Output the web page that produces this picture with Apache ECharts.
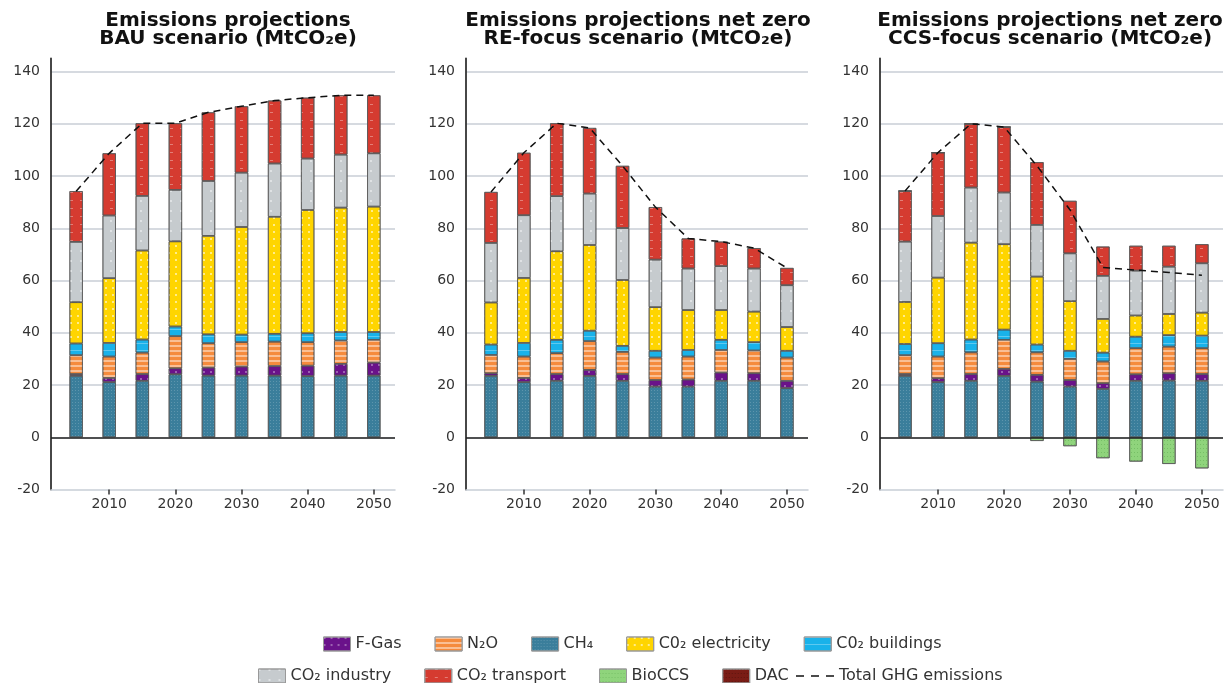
<!DOCTYPE html>
<html><head><meta charset="utf-8">
<script src="https://cdn.jsdelivr.net/npm/echarts@6/dist/echarts.min.js"></script>
<style>html,body{margin:0;padding:0;background:#fff}#c{width:1224px;height:683px}</style>
</head><body><div id="c"></div>
<script>
// ---------- data ----------
const years = [2005, 2010, 2015, 2020, 2025, 2030, 2035, 2040, 2045, 2050];
const xTickYears = [2010, 2020, 2030, 2040, 2050];

const titleBAU = 'Emissions projections\nBAU scenario (MtCO₂e)';
const titleRE = 'Emissions projections net zero\nRE-focus scenario (MtCO₂e)';
const titleCCS = 'Emissions projections net zero\nCCS-focus scenario (MtCO₂e)';

// BAU scenario
const bauCH4   = [23.5, 21.1, 21.6, 24.1, 23.6, 23.6, 23.6, 23.4, 23.6, 23.6];
const bauFGas  = [0.7, 1.6, 2.6, 2.3, 3.1, 3.5, 3.7, 4.0, 4.5, 5.0];
const bauN2O   = [7.2, 8.2, 8.2, 12.3, 9.3, 9.3, 9.3, 9.0, 8.9, 8.7];
const bauBld   = [4.5, 5.2, 5.0, 3.7, 3.4, 2.9, 3.0, 3.4, 3.3, 3.0];
const bauElec  = [15.8, 24.8, 34.1, 32.6, 37.7, 41.2, 44.8, 47.2, 47.6, 48.0];
const bauInd   = [23.1, 24.0, 20.9, 19.7, 21.0, 20.8, 20.4, 19.7, 20.3, 20.4];
const bauTrans = [19.4, 23.8, 27.8, 25.5, 26.3, 25.4, 24.1, 23.3, 22.7, 22.2];
const bauTotal = [94.2, 108.7, 120.2, 120.2, 124.4, 126.7, 128.9, 130.0, 130.9, 130.9];

// RE-focus scenario
const reCH4   = [23.5, 21.1, 21.6, 23.5, 21.6, 19.4, 19.4, 21.6, 21.6, 18.8];
const reFGas  = [1.0, 1.6, 2.6, 2.3, 2.6, 2.5, 2.7, 3.2, 2.9, 2.8];
const reN2O   = [7.0, 8.2, 8.0, 11.0, 8.5, 8.6, 8.8, 8.6, 8.7, 8.9];
const reBld   = [4.0, 5.2, 5.1, 4.0, 2.3, 2.6, 2.5, 3.9, 3.2, 2.6];
const reElec  = [16.1, 24.9, 33.9, 32.8, 25.2, 16.7, 15.3, 11.4, 11.7, 9.1];
const reInd   = [22.8, 24.0, 21.1, 19.7, 19.9, 18.2, 15.9, 16.8, 16.5, 16.0];
const reTrans = [19.5, 23.9, 27.9, 25.1, 23.8, 20.1, 11.5, 9.4, 7.8, 6.6];
const reTotal = [93.9, 108.9, 120.2, 118.4, 103.9, 88.1, 76.1, 74.9, 72.4, 64.8];

// CCS-focus scenario
const ccsCH4   = [23.5, 21.1, 21.6, 23.5, 21.3, 19.4, 18.5, 21.6, 21.7, 21.6];
const ccsFGas  = [0.7, 1.5, 2.6, 2.7, 2.6, 2.5, 2.2, 2.5, 2.8, 2.6];
const ccsN2O   = [7.2, 8.3, 8.3, 11.1, 8.6, 8.1, 8.3, 10.0, 10.2, 9.9];
const ccsBld   = [4.3, 5.1, 4.9, 3.9, 3.0, 3.1, 3.4, 4.4, 4.4, 4.8];
const ccsElec  = [16.1, 25.1, 37.1, 32.7, 26.0, 19.0, 12.9, 8.1, 8.1, 8.8];
const ccsInd   = [23.1, 23.6, 21.1, 19.8, 19.8, 18.3, 16.5, 17.2, 18.1, 18.9];
const ccsTrans = [19.4, 24.3, 24.4, 25.1, 24.0, 20.1, 11.2, 9.5, 8.0, 7.3];
const ccsBio   = [0, 0, 0, 0, -1.4, -3.4, -8.0, -9.3, -10.2, -11.9];
const ccsDAC   = [0, 0, 0, 0, 0, 0, 0, 0, 0, 0];
const ccsTotal = [94.3, 109.0, 120.0, 118.8, 103.9, 87.1, 65.0, 64.0, 63.1, 62.0];

const legendRow1 = ['F-Gas', 'N₂O', 'CH₄', 'C0₂ electricity', 'C0₂ buildings'];
const legendRow2 = ['CO₂ industry', 'CO₂ transport', 'BioCCS', 'DAC'];
const legendLine = 'Total GHG emissions';

// ---------- styles ----------
const FONT = 'DejaVu Sans';
const W = 'rgba(255,255,255,0.45)';
const styles = {
  'CH₄': { color: '#3a7e9b', decal: { symbol: 'rect', color: 'rgba(255,255,255,0.18)', dashArrayX: [1, 2], dashArrayY: [1, 2], symbolSize: 1 } },
  'F-Gas': { color: '#6a128a', decal: { symbol: 'circle', color: W, dashArrayX: [2, 5], dashArrayY: [2, 5], symbolSize: 1 } },
  'N₂O': { color: '#f58b3d', decal: { symbol: 'rect', color: W, dashArrayX: [1, 0], dashArrayY: [1.2, 2.8], symbolSize: 1 } },
  'C0₂ buildings': { color: '#19b2ea', decal: { symbol: 'rect', color: 'rgba(255,255,255,0.3)', dashArrayX: [1, 0], dashArrayY: [1, 6], symbolSize: 1 } },
  'C0₂ electricity': { color: '#ffd500', decal: { symbol: 'rect', color: 'rgba(255,255,255,0.55)', dashArrayX: [1.5, 5], dashArrayY: [1.5, 5], symbolSize: 1 } },
  'CO₂ industry': { color: '#c6cbce', decal: { symbol: 'circle', color: 'rgba(255,255,255,0.6)', dashArrayX: [2, 8], dashArrayY: [2, 8], symbolSize: 1 } },
  'CO₂ transport': { color: '#d53b30', decal: { symbol: 'rect', color: 'rgba(255,255,255,0.35)', dashArrayX: [3, 7], dashArrayY: [1, 7], symbolSize: 1 } },
  'BioCCS': { color: '#8fd47c', decal: { symbol: 'circle', color: 'rgba(70,150,60,0.45)', dashArrayX: [1, 2], dashArrayY: [1, 3], symbolSize: 1 } },
  'DAC': { color: '#7a1c15', decal: { symbol: 'circle', color: 'rgba(0,0,0,0.3)', dashArrayX: [1, 2], dashArrayY: [1, 3], symbolSize: 1 } }
};

const X_MIN = 2001.2, X_MAX = 2053.2;
const panels = [
  { title: titleBAU, cx: 228, left: 51, width: 344,
    stacks: [['CH₄', bauCH4], ['F-Gas', bauFGas], ['N₂O', bauN2O], ['C0₂ buildings', bauBld], ['C0₂ electricity', bauElec], ['CO₂ industry', bauInd], ['CO₂ transport', bauTrans]],
    total: bauTotal },
  { title: titleRE, cx: 638, left: 466, width: 342,
    stacks: [['CH₄', reCH4], ['F-Gas', reFGas], ['N₂O', reN2O], ['C0₂ buildings', reBld], ['C0₂ electricity', reElec], ['CO₂ industry', reInd], ['CO₂ transport', reTrans]],
    total: reTotal },
  { title: titleCCS, cx: 1050, left: 880, width: 343,
    stacks: [['CH₄', ccsCH4], ['F-Gas', ccsFGas], ['N₂O', ccsN2O], ['C0₂ buildings', ccsBld], ['C0₂ electricity', ccsElec], ['CO₂ industry', ccsInd], ['CO₂ transport', ccsTrans], ['BioCCS', ccsBio], ['DAC', ccsDAC]],
    total: ccsTotal }
];

const GRID_TOP = 58.5, GRID_H = 431, Y_MIN = -20, Y_MAX = 145;
const grid = [], xAxis = [], yAxis = [], series = [], graphic = [];
panels.forEach((p, i) => {
  const ppy = p.width / (X_MAX - X_MIN);
  const gA = 2 * i, gB = 2 * i + 1;
  // visible axes grid
  grid.push({ left: p.left, width: p.width, top: GRID_TOP, height: GRID_H });
  // bars grid: one 5-year band per category
  grid.push({ left: p.left + (years[0] - 2.5 - X_MIN) * ppy, width: years.length * 5 * ppy, top: GRID_TOP, height: GRID_H });

  xAxis.push({
    type: 'value', gridIndex: gA, min: X_MIN, max: X_MAX,
    axisLine: { show: true, onZero: false, lineStyle: { color: '#c8ced6', width: 1.5 } },
    axisTick: { show: true, customValues: xTickYears, length: 5, lineStyle: { color: '#333', width: 1.5 } },
    axisLabel: { customValues: xTickYears, color: '#333', fontFamily: FONT, fontSize: 14, margin: 8, formatter: v => String(v) },
    splitLine: { show: false }
  });
  xAxis.push({ type: 'category', gridIndex: gB, data: years.map(String), show: false, boundaryGap: true });
  yAxis.push({
    type: 'value', gridIndex: gA, min: Y_MIN, max: Y_MAX, interval: 20,
    axisLine: { show: true, lineStyle: { color: '#333', width: 1.8 } },
    axisTick: { show: false },
    axisLabel: { color: '#333', fontFamily: FONT, fontSize: 14, margin: 11, showMaxLabel: false,
      formatter: v => (v % 20 === 0 ? String(v) : '') },
    splitLine: { show: true, showMinLine: false, showMaxLine: false, lineStyle: { color: '#c8ced6', width: 1.5 } }
  });
  yAxis.push({ type: 'value', gridIndex: gB, min: Y_MIN, max: Y_MAX, show: false, splitLine: { show: false } });

  p.stacks.forEach(([name, vals]) => {
    const st = styles[name];
    series.push({
      type: 'bar', name, xAxisIndex: gB, yAxisIndex: gB, stack: 'p' + i, barWidth: 13.3,
      data: vals,
      itemStyle: { color: st.color, decal: st.decal, borderColor: '#555', borderWidth: name === 'DAC' ? 0 : 0.7 },
      emphasis: { disabled: true }, animation: false
    });
  });
  series.push({
    type: 'line', name: legendLine, xAxisIndex: gA, yAxisIndex: gA, symbol: 'none', z: 10,
    data: years.map((y, j) => [y, p.total[j]]),
    lineStyle: { color: '#111', width: 1.5, type: [7, 5] }, itemStyle: { color: '#111' },
    emphasis: { disabled: true }, animation: false,
    markLine: { silent: true, symbol: 'none', label: { show: false }, animation: false,
      lineStyle: { color: '#222', width: 1.6, type: 'solid' }, data: [{ yAxis: 0 }] }
  });
  graphic.push({ type: 'text', x: p.cx, y: 12, silent: true,
    style: { text: p.title, align: 'center', verticalAlign: 'top', fontFamily: FONT, fontWeight: 'bold', fontSize: 20, lineHeight: 18, fill: '#111' } });
});

const legendText = { color: '#333', fontFamily: FONT, fontSize: 16 };
const legendItemStyle = { borderColor: '#999', borderWidth: 1 };
const dashIcon = 'path://M0,0h0.01v0.01h-0.01z M0,6.2h8v1.6h-8z M15,6.2h8v1.6h-8z M30,6.2h8v1.6h-8z M37.99,13.99h0.01v0.01h-0.01z';
const option = {
  animation: false,
  grid, xAxis, yAxis, series, graphic,
  legend: [
    { data: legendRow1, left: 318, top: 631, itemWidth: 27, itemHeight: 14, itemGap: 33, selectedMode: false,
      textStyle: legendText, itemStyle: legendItemStyle, icon: 'rect' },
    { data: legendRow2, left: 253, top: 663, itemWidth: 27, itemHeight: 14, itemGap: 33, selectedMode: false,
      textStyle: legendText, itemStyle: legendItemStyle, icon: 'rect' },
    { data: [{ name: legendLine, icon: dashIcon }], left: 791, top: 663, itemWidth: 38, itemHeight: 14, selectedMode: false,
      textStyle: legendText, itemStyle: { color: '#111', borderWidth: 0 } }
  ]
};
const chart = echarts.init(document.getElementById('c'), null, { renderer: 'canvas' });
chart.setOption(option);
</script></body></html>
